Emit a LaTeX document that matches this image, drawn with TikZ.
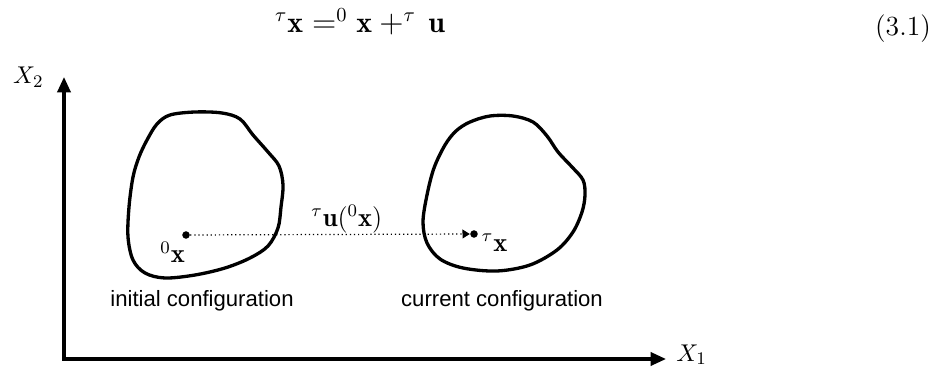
\documentclass[tikz,border=0pt]{standalone}
\usepackage{fontspec}
\setsansfont{Liberation Sans}
\usepackage{tikz}
\usetikzlibrary{positioning, arrows.meta}

\begin{document}
\begin{tikzpicture}[
        x=0.452pt, y=-0.452pt,
        blob/.style={line width=1.5pt, line join=round},
        axis/.style={line width=1.4pt, line join=miter,
            {Triangle[length=7pt, width=6pt]}-{Triangle[length=7pt, width=6pt]}},
        pt/.style={circle, fill=black, inner sep=0pt, minimum size=3.4pt},
        disp/.style={line width=0.55pt, dash pattern=on 0.55pt off 1.3pt,
            -{Triangle[length=3.3pt, width=4pt]}},
        mlbl/.style={inner sep=0pt, font=\fontsize{12}{14}\selectfont},
        axlbl/.style={inner sep=0pt, font=\fontsize{11}{13}\selectfont},
        eq/.style={anchor=base, inner sep=0pt, font=\fontsize{13.5}{16}\selectfont},
        cfg/.style={inner sep=0pt, font=\sffamily\fontsize{10}{12}\selectfont}
    ]
    \useasboundingbox (0,0) rectangle (946,368);

    \node [eq] (eqn) at (360,33) {$^\tau\mathbf{x}=^0\mathbf{x}+^\tau\,\mathbf{u}$};
    \node [eq, font=\fontsize{12.5}{15}\selectfont] (eqnum) at (903,36) {(3.1)};

    \coordinate (O) at (64,359);
    \coordinate (ytip) at (64,77);
    \coordinate (xtip) at (666,359);
    \draw [axis] (ytip) -- (O) -- (xtip);
    \node [axlbl, left=9pt of ytip] (X2) {$X_2$};
    \node [axlbl, right=4.5pt of xtip, yshift=2pt] (X1) {$X_1$};

    % reference and current body
    \draw [blob] plot [smooth cycle, tension=0.55] coordinates {
        (147,140) (157,124) (170,115) (195,112) (222,113) (240,119) (253,135)
        (268,152) (279,166) (283,185) (281,207) (278,228) (268,246) (250,258)
        (225,268) (195,275) (165,278) (145,273) (133,260) (128,237) (129,207)
        (133,177) (139,157)};
    \draw [blob] plot [smooth cycle, tension=0.55] coordinates {
        (470,122) (490,116) (513,116) (533,122) (547,136) (558,152) (572,167)
        (583,180) (585,195) (582,212) (573,232) (557,250) (530,265) (497,271)
        (463,268) (440,259) (427,243) (423,222) (427,195) (434,168) (445,145)
        (456,131)};

    \node [pt] (p0) at (186,235) {};
    \node [pt] (p1) at (474,234) {};
    \node [mlbl, below left=1.5pt and -1pt of p0] (l0) {$^0\mathbf{x}$};
    \node [mlbl, below right=-1.6pt and 2pt of p1] (l1) {$^\tau\mathbf{x}$};
    \draw [disp] (p0) -- node[mlbl, above, pos=0.56, inner sep=0.5pt] (lu) {$^\tau\mathbf{u}(^0\mathbf{x})$} (p1);

    \node [cfg] (init) at (202,301) {initial configuration};
    \node [cfg] (curr) at (502,301) {current configuration};
\end{tikzpicture}
\end{document}
